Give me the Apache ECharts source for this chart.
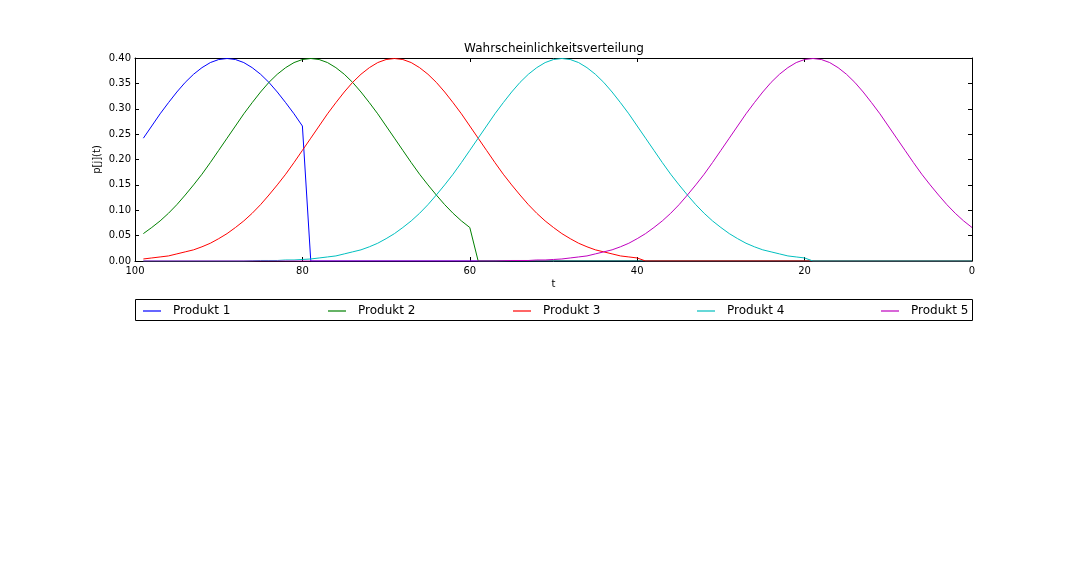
<!DOCTYPE html>
<html>
<head>
<meta charset="utf-8">
<script src="https://cdn.jsdelivr.net/npm/echarts@6/dist/echarts.min.js"></script>
<style>
  html, body { margin: 0; padding: 0; background: #fff; }
  #chart { width: 1080px; height: 576px; }
</style>
</head>
<body>
<div id="chart"></div>
<script>
// t axis runs 100 -> 0
const names = ['Produkt 1', 'Produkt 2', 'Produkt 3', 'Produkt 4', 'Produkt 5']
const colors = ['#0000ff', '#008000', '#ff0000', '#00bfbf', '#bf00bf']
const xTicks = [0, 20, 40, 60, 80, 100]

const produkt1 = [
  [99, 0.242], [98, 0.266], [97, 0.290], [96, 0.312], [95, 0.333], [94, 0.352], [93, 0.368], [92, 0.381],
  [91, 0.391], [90, 0.397], [89, 0.399], [88, 0.397], [87, 0.391], [86, 0.381], [85, 0.368], [84, 0.352],
  [83, 0.333], [82, 0.312], [81, 0.290], [80, 0.266], [79, 0], [0, 0]
]
const produkt2 = [
  [99, 0.054], [98, 0.066], [97, 0.079], [96, 0.094], [95, 0.111], [94, 0.130], [93, 0.150], [92, 0.171],
  [91, 0.194], [90, 0.218], [89, 0.242], [88, 0.266], [87, 0.290], [86, 0.312], [85, 0.333], [84, 0.352],
  [83, 0.368], [82, 0.381], [81, 0.391], [80, 0.397], [79, 0.399], [78, 0.397], [77, 0.391], [76, 0.381],
  [75, 0.368], [74, 0.352], [73, 0.333], [72, 0.312], [71, 0.290], [70, 0.266], [69, 0.242], [68, 0.218],
  [67, 0.194], [66, 0.171], [65, 0.150], [64, 0.130], [63, 0.111], [62, 0.094], [61, 0.079], [60, 0.066],
  [59, 0], [0, 0]
]
const produkt3 = [
  [99, 0.004], [98, 0.006], [97, 0.008], [96, 0.010], [95, 0.014], [94, 0.018], [93, 0.022], [92, 0.028],
  [91, 0.035], [90, 0.044], [89, 0.054], [88, 0.066], [87, 0.079], [86, 0.094], [85, 0.111], [84, 0.130],
  [83, 0.150], [82, 0.171], [81, 0.194], [80, 0.218], [79, 0.242], [78, 0.266], [77, 0.290], [76, 0.312],
  [75, 0.333], [74, 0.352], [73, 0.368], [72, 0.381], [71, 0.391], [70, 0.397], [69, 0.399], [68, 0.397],
  [67, 0.391], [66, 0.381], [65, 0.368], [64, 0.352], [63, 0.333], [62, 0.312], [61, 0.290], [60, 0.266],
  [59, 0.242], [58, 0.218], [57, 0.194], [56, 0.171], [55, 0.150], [54, 0.130], [53, 0.111], [52, 0.094],
  [51, 0.079], [50, 0.066], [49, 0.054], [48, 0.044], [47, 0.035], [46, 0.028], [45, 0.022], [44, 0.018],
  [43, 0.014], [42, 0.010], [41, 0.008], [40, 0.006], [39, 0], [0, 0]
]
const produkt4 = [
  [99, 0], [87, 0], [86, 0.0005], [85, 0.001], [84, 0.001], [83, 0.001], [82, 0.002], [81, 0.002],
  [80, 0.003], [79, 0.004], [78, 0.006], [77, 0.008], [76, 0.010], [75, 0.014], [74, 0.018], [73, 0.022],
  [72, 0.028], [71, 0.035], [70, 0.044], [69, 0.054], [68, 0.066], [67, 0.079], [66, 0.094], [65, 0.111],
  [64, 0.130], [63, 0.150], [62, 0.171], [61, 0.194], [60, 0.218], [59, 0.242], [58, 0.266], [57, 0.290],
  [56, 0.312], [55, 0.333], [54, 0.352], [53, 0.368], [52, 0.381], [51, 0.391], [50, 0.397], [49, 0.399],
  [48, 0.397], [47, 0.391], [46, 0.381], [45, 0.368], [44, 0.352], [43, 0.333], [42, 0.312], [41, 0.290],
  [40, 0.266], [39, 0.242], [38, 0.218], [37, 0.194], [36, 0.171], [35, 0.150], [34, 0.130], [33, 0.111],
  [32, 0.094], [31, 0.079], [30, 0.066], [29, 0.054], [28, 0.044], [27, 0.035], [26, 0.028], [25, 0.022],
  [24, 0.018], [23, 0.014], [22, 0.010], [21, 0.008], [20, 0.006], [19, 0], [0, 0]
]
const produkt5 = [
  [99, 0], [57, 0], [56, 0.0005], [55, 0.001], [54, 0.001], [53, 0.001], [52, 0.002], [51, 0.002],
  [50, 0.003], [49, 0.004], [48, 0.006], [47, 0.008], [46, 0.010], [45, 0.014], [44, 0.018], [43, 0.022],
  [42, 0.028], [41, 0.035], [40, 0.044], [39, 0.054], [38, 0.066], [37, 0.079], [36, 0.094], [35, 0.111],
  [34, 0.130], [33, 0.150], [32, 0.171], [31, 0.194], [30, 0.218], [29, 0.242], [28, 0.266], [27, 0.290],
  [26, 0.312], [25, 0.333], [24, 0.352], [23, 0.368], [22, 0.381], [21, 0.391], [20, 0.397], [19, 0.399],
  [18, 0.397], [17, 0.391], [16, 0.381], [15, 0.368], [14, 0.352], [13, 0.333], [12, 0.312], [11, 0.290],
  [10, 0.266], [9, 0.242], [8, 0.218], [7, 0.194], [6, 0.171], [5, 0.150], [4, 0.130], [3, 0.111],
  [2, 0.094], [1, 0.079], [0, 0.066]
]
const allData = [produkt1, produkt2, produkt3, produkt4, produkt5]

const font = 'DejaVu Sans'
const myCharts = echarts.init(document.getElementById('chart'))

const tickAxis = {
  axisLine: { show: true, onZero: false, lineStyle: { color: '#000', width: 1 } },
  axisTick: { show: true, inside: true, length: 4, lineStyle: { color: '#000' } },
  splitLine: { show: false }
}

// legend: one component per entry so they spread like matplotlib's expand mode
const legendLefts = [143, 328, 513, 697, 881]
const legends = names.map((n, i) => ({
  data: [n],
  left: legendLefts[i],
  top: 305,
  padding: 0,
  icon: 'rect',
  itemWidth: 18,
  itemHeight: 1.2,
  selectedMode: false,
  textStyle: { fontFamily: font, fontSize: 12, color: '#000', padding: [0, 0, 0, 7] }
}))

const option = {
  backgroundColor: '#fff',
  animation: false,
  title: {
    text: 'Wahrscheinlichkeitsverteilung',
    left: 549,
    textAlign: 'center',
    top: 38,
    textStyle: { fontFamily: font, fontSize: 12, fontWeight: 'normal', color: '#000' }
  },
  legend: legends,
  grid: { left: 135, right: 108, top: 58, height: 203 },
  xAxis: [
    Object.assign({}, tickAxis, {
      type: 'value', min: 0, max: 100, interval: 20, inverse: true,
      name: 't', nameLocation: 'middle', nameGap: 18, nameMoveOverlap: false,
      nameTextStyle: { fontFamily: font, fontSize: 10, color: '#000' },
      axisLabel: { fontFamily: font, fontSize: 10, color: '#000', margin: 5 }
    }),
    Object.assign({}, tickAxis, {
      type: 'value', min: 0, max: 100, interval: 20, inverse: true, position: 'top',
      axisLabel: { show: false }
    })
  ],
  yAxis: [
    Object.assign({}, tickAxis, {
      type: 'value', min: 0, max: 0.4, interval: 0.05,
      name: 'p[j](t)', nameLocation: 'middle', nameGap: 33, nameMoveOverlap: false,
      nameTextStyle: { fontFamily: font, fontSize: 10, color: '#000' },
      axisLabel: { fontFamily: font, fontSize: 10, color: '#000', margin: 4,
        formatter: v => v.toFixed(2) }
    }),
    Object.assign({}, tickAxis, {
      type: 'value', min: 0, max: 0.4, interval: 0.05, position: 'right',
      axisLabel: { show: false }
    })
  ],
  graphic: [{
    type: 'rect',
    shape: { x: 135.5, y: 299.5, width: 837, height: 21 },
    style: { fill: 'none', stroke: '#000', lineWidth: 1 },
    silent: true
  }],
  series: names.map((n, i) => ({
    name: n,
    type: 'line',
    data: allData[i],
    showSymbol: false,
    symbol: 'none',
    color: colors[i],
    lineStyle: { width: 1, color: colors[i] },
    z: 2 + i
  }))
}

myCharts.setOption(option)
window.addEventListener('resize', myCharts.resize)
</script>
</body>
</html>
